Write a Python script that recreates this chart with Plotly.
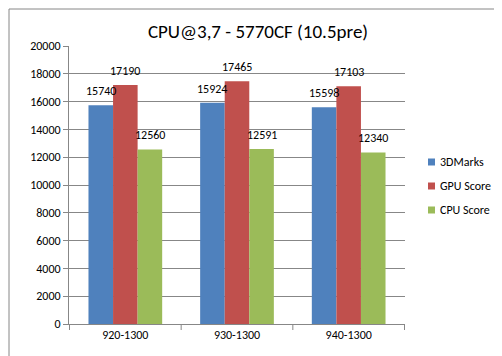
import plotly.graph_objects as go

categories = ["920-1300", "930-1300", "940-1300"]
series_names = ["3DMarks", "GPU Score", "CPU Score"]
marks_3d = [15740, 15924, 15598]
gpu_score = [17190, 17465, 17103]
cpu_score = [12560, 12591, 12340]
y_ticks = [0, 2000, 4000, 6000, 8000, 10000, 12000, 14000, 16000, 18000, 20000]

colors = ["#4F81BD", "#C0504D", "#9BBB59"]
FONT = "Carlito, Lato, 'Open Sans', sans-serif"
BARGAP = 0.34

W, H = 502, 356
L, R, T, B = 61, 105, 38, 40
pw, ph = W - L - R, H - T - B

def px_x(x):
    return (x - L) / pw

def px_y(y):
    return 1 - (y - T) / ph

fig = go.Figure()
annotations = []
bw = (1 - BARGAP) / len(series_names)
all_series = [marks_3d, gpu_score, cpu_score]
for i, (name, vals) in enumerate(zip(series_names, all_series)):
    fig.add_trace(go.Bar(
        x=categories, y=vals, name=name,
        marker=dict(color=colors[i], line=dict(width=0)),
        showlegend=False,
    ))
    for k, v in enumerate(vals):
        annotations.append(dict(text=str(v), xref="x", yref="y",
                                x=k + (i - 1) * bw, y=v, xanchor="center", yanchor="bottom",
                                yshift=5, showarrow=False,
                                font=dict(size=12, family=FONT, color="#000000")))

legend_y = [154, 178, 202]
shapes = [
    dict(type="rect", xref="paper", yref="paper",
         x0=px_x(1), x1=px_x(W - 3), y0=px_y(H - 3), y1=px_y(1),
         line=dict(color="#868686", width=1), fillcolor="rgba(0,0,0,0)", layer="below"),
]
for k in range(len(categories) + 1):
    shapes.append(dict(type="line", xref="x", yref="paper", x0=k - 0.5, x1=k - 0.5,
                       y0=0, y1=-6 / ph, line=dict(color="#878787", width=1)))
for i, name in enumerate(series_names):
    yc = legend_y[i]
    shapes.append(dict(type="rect", xref="paper", yref="paper",
                       x0=px_x(420), x1=px_x(427), y0=px_y(yc + 3.5), y1=px_y(yc - 3.5),
                       line=dict(width=0), fillcolor=colors[i]))
    annotations.append(dict(text=name, xref="paper", yref="paper",
                            x=px_x(430), y=px_y(yc), xanchor="left", yanchor="middle",
                            showarrow=False, font=dict(size=12, family=FONT, color="#000000")))

fig.update_layout(
    width=W, height=H,
    margin=dict(l=L, r=R, t=T, b=B),
    paper_bgcolor="white", plot_bgcolor="white",
    barmode="group", bargap=BARGAP, bargroupgap=0,
    font=dict(family=FONT, size=12, color="#000000"),
    title=dict(text="CPU@3,7 - 5770CF (10.5pre)", xref="paper", x=px_x(250), xanchor="center",
               yref="container", y=1 - 23 / H, yanchor="middle",
               font=dict(size=19, family=FONT, color="#000000")),
    showlegend=False,
    yaxis=dict(range=[0, 20000], tickvals=y_ticks, ticktext=[str(v) for v in y_ticks],
               showgrid=True, gridcolor="#878787",
               gridwidth=1, showline=True, linecolor="#878787", ticks="outside",
               ticklen=5, tickcolor="#878787", zeroline=False,
               tickfont=dict(size=12, family=FONT)),
    xaxis=dict(showline=True, linecolor="#878787", ticks="", showgrid=False,
               tickfont=dict(size=12, family=FONT)),
    shapes=shapes,
    annotations=annotations,
)

fig.write_html("out.html")
